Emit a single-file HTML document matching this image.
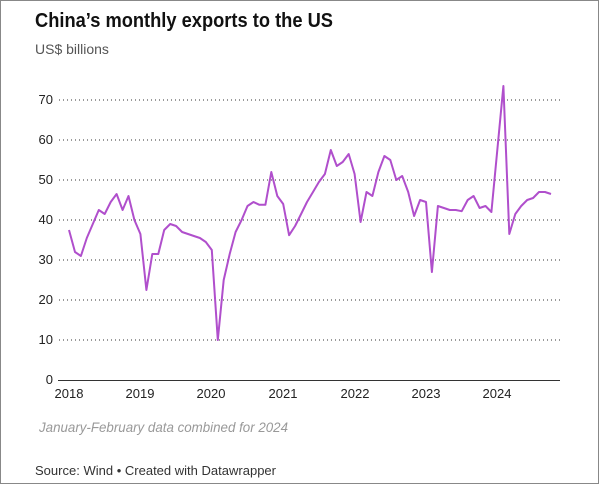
<!DOCTYPE html>
<html><head><meta charset="utf-8"><style>
html,body{margin:0;padding:0;background:#fff;}
svg{display:block;font-family:"Liberation Sans",sans-serif;}
</style></head><body>
<svg width="600" height="484" viewBox="0 0 600 484">
<rect x="0.5" y="0.5" width="598" height="483" fill="#fff" stroke="#888" stroke-width="1"/>
<text x="35" y="27" font-size="20" font-weight="bold" fill="#111" textLength="298" lengthAdjust="spacingAndGlyphs">China’s monthly exports to the US</text>
<text x="35" y="54" font-size="14" fill="#555">US$ billions</text>
<g stroke="#333" stroke-width="1" stroke-dasharray="1,3">
<line x1="59" y1="100" x2="560" y2="100"/>
<line x1="59" y1="140" x2="560" y2="140"/>
<line x1="59" y1="180" x2="560" y2="180"/>
<line x1="59" y1="220" x2="560" y2="220"/>
<line x1="59" y1="260" x2="560" y2="260"/>
<line x1="59" y1="300" x2="560" y2="300"/>
<line x1="59" y1="340" x2="560" y2="340"/>
</g>
<line x1="58" y1="380.5" x2="560" y2="380.5" stroke="#333" stroke-width="1"/>
<g font-size="13" fill="#222" text-anchor="end">
<text x="53" y="104">70</text><text x="53" y="144">60</text><text x="53" y="184">50</text>
<text x="53" y="224">40</text><text x="53" y="264">30</text><text x="53" y="304">20</text>
<text x="53" y="344">10</text><text x="53" y="384">0</text>
</g>
<g font-size="13" fill="#222" text-anchor="middle">
<text x="69" y="398">2018</text><text x="140" y="398">2019</text><text x="211" y="398">2020</text>
<text x="283" y="398">2021</text><text x="355" y="398">2022</text><text x="426" y="398">2023</text><text x="497" y="398">2024</text>
</g>
<polyline id="l" fill="none" stroke="#b04fcc" stroke-width="2" stroke-linejoin="round" points=""/>
<text x="39" y="432" font-size="14" font-style="italic" fill="#999" textLength="249" lengthAdjust="spacingAndGlyphs">January-February data combined for 2024</text>
<text x="35" y="475" font-size="13" fill="#333" textLength="241" lengthAdjust="spacingAndGlyphs">Source: Wind • Created with Datawrapper</text>
</svg>
<script>
var v=[37.5,32,31,35.5,39,42.5,41.5,44.5,46.5,42.5,46,40,
36.5,22.5,31.5,31.5,37.5,39,38.5,37,36.5,36,35.5,34.5,
32.5,10,25,31.5,37,40,43.5,44.5,43.8,43.8,52,46,
44,36.2,38.5,41.5,44.5,47,49.5,51.5,57.5,53.5,54.5,56.5,
51.5,39.5,47,46,52,56,55,50,51,47,41,45,
44.5,27,43.5,43,42.5,42.5,42.2,45,46,43,43.5,42,
null,73.5,36.5,41.5,43.5,45,45.5,47,47,46.5];
var p=[];for(var i=0;i<v.length;i++){if(v[i]!==null)p.push((69+5.95*i).toFixed(1)+","+(380-4*v[i]).toFixed(1));}
document.getElementById('l').setAttribute('points',p.join(' '));
</script>
</body></html>
